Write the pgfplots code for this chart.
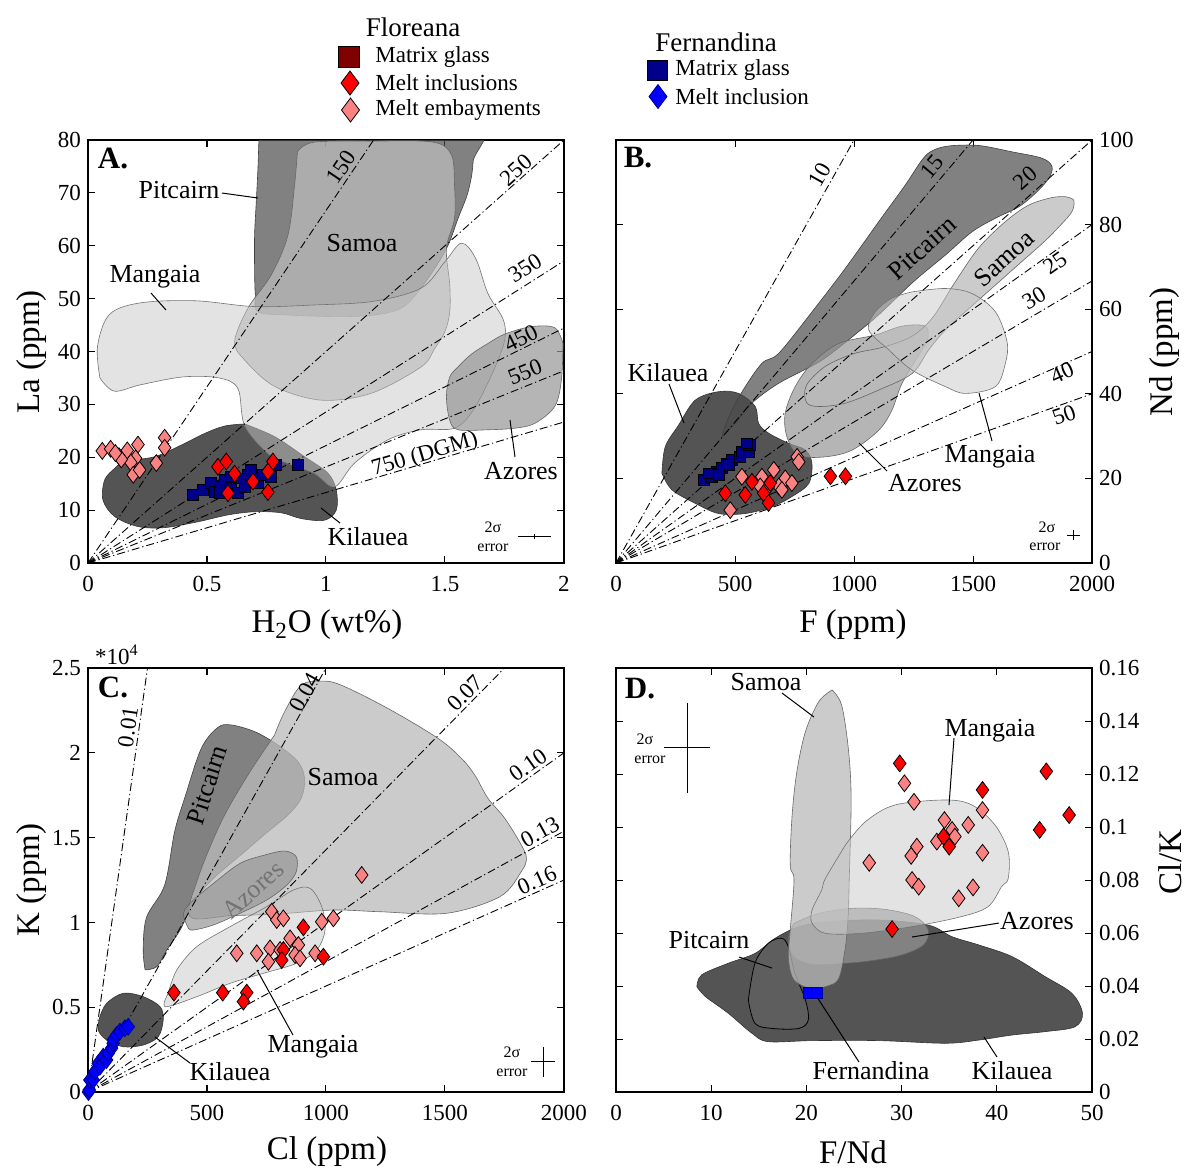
\documentclass[border=0pt]{standalone}
\usepackage{pgfplots}
\pgfplotsset{compat=1.18}
\usepackage{fontspec}
\setmainfont{Liberation Serif}
\definecolor{redMI}{RGB}{255,0,0}
\definecolor{pinkME}{RGB}{250,130,130}
\definecolor{maroonMG}{RGB}{128,0,0}
\definecolor{navyMG}{RGB}{0,0,139}
\definecolor{blueMI}{RGB}{0,0,255}
\newcommand\tickfont{\fontsize{11.5}{13}\selectfont}
\newcommand\lab{\fontsize{16.5}{18}\selectfont}
\newcommand\ann{\fontsize{13}{15}\selectfont}
\newcommand\rat{\fontsize{11.5}{13}\selectfont}
\newcommand\leg{\fontsize{11.5}{13}\selectfont}
\newcommand\ttl{\fontsize{13.5}{15}\selectfont}
\newcommand\pl{\fontsize{15.5}{17}\selectfont\bfseries}
\newcommand\er{\fontsize{8}{9}\selectfont}
\pgfplotsset{
  panel/.style={scale only axis, width=238pt, anchor=south west,
    enlargelimits=false, clip mode=individual,
    axis line style={black, line width=0.6pt},
    tick align=inside, tick pos=both, major tick length=3.5pt,
    tick style={black, line width=0.5pt},
    ticklabel style={font=\tickfont},
    scaled ticks=false, xticklabel shift=3pt,
    /pgf/number format/fixed, /pgf/number format/precision=2,
    /pgf/number format/1000 sep={},
    /pgf/number format/assume math mode=true,
    xticklabel={\pgfmathprintnumber[assume math mode=true]{\tick}},
    yticklabel={\pgfmathprintnumber[assume math mode=true]{\tick}}},
  fld/.style={smooth, tension=0.55, line width=0.3pt},
  kil/.style={fld, fill=black!67, draw=black!80},
  pit/.style={fld, fill=black!70, fill opacity=0.7, draw=black!75},
  sam/.style={fld, fill=black!27, fill opacity=0.75, draw=black!60},
  man/.style={fld, fill=black!22, fill opacity=0.5, draw=black!55},
  azo/.style={fld, fill=black!41, fill opacity=0.7, draw=black!60},
  mi/.style={only marks, mark=diamond*, mark size=4.2pt, mark options={fill=redMI, draw=black, line width=0.4pt, solid}},
  me/.style={only marks, mark=diamond*, mark size=4.2pt, mark options={fill=pinkME, draw=black, line width=0.4pt, solid}},
  fmg/.style={only marks, mark=square*, mark size=2.7pt, mark options={fill=navyMG, draw=black, line width=0.4pt, solid}},
  fmi/.style={only marks, mark=diamond*, mark size=4.2pt, mark options={fill=blueMI, draw=navyMG, line width=0.4pt, solid}},
  ratio/.style={black, line width=0.45pt, dash pattern=on 4pt off 1.5pt on 0.6pt off 1.5pt},
  err/.style={draw=none, mark=none, error bars/.cd, x dir=both, x explicit, y dir=both, y explicit, error mark=none, error bar style={draw=black, solid, line width=0.5pt}},
}
\begin{document}
\begin{tikzpicture}
\useasboundingbox (0,0) rectangle (595pt,-584.5pt);
% ---------------- Panel A ----------------
\begin{axis}[panel, height=211.5pt, at={(44pt,-281.5pt)},
  xmin=0, xmax=2, ymin=0, ymax=80, xtick={0,0.5,1,1.5,2}, ytick={0,10,20,30,40,50,60,70,80}]
\addplot[kil] coordinates {(0.658,26.3)(0.784,23.9)(0.910,20.1)(1.008,17.0)(1.043,13.8)(1.043,10.0)(0.994,8.1)(0.896,8.4)(0.812,9.5)(0.700,9.7)(0.588,9.1)(0.462,7.8)(0.322,6.7)(0.210,6.9)(0.112,8.8)(0.063,11.9)(0.070,15.7)(0.112,17.9)(0.154,19.2)(0.280,20.1)(0.392,22.3)(0.490,24.5)(0.574,25.9)(0.658,26.3)} -- cycle;
\addplot[pit] coordinates {(0.721,84)(0.714,74.6)(0.707,68.3)(0.700,62.0)(0.700,55.7)(0.703,50.7)(0.714,47.5)(0.840,46.9)(1.050,46.6)(1.204,46.9)(1.317,48.2)(1.387,51.3)(1.457,55.7)(1.513,60.1)(1.555,65.2)(1.597,70.2)(1.618,75.9)(1.611,84)(0.721,84)} -- cycle;
\addplot[sam] coordinates {(0.88,77.8)(0.95,79.6)(1.2,79.8)(1.45,79.6)(1.527,77.2)(1.54,71.5)(1.54,65.2)(1.506,59.5)(1.52,52.6)(1.52,47.5)(1.50,43.8)(1.457,40.6)(1.40,37.1)(1.19,32.1)(0.98,30.8)(0.784,33.4)(0.658,38.4)(0.616,41.9)(0.672,48.2)(0.77,54.5)(0.84,62.0)(0.868,71.5)(0.88,77.8)} -- cycle;
\addplot[man] coordinates {(0.05,35)(0.04,41)(0.09,47)(0.22,49.2)(0.45,49.6)(0.7,48.5)(0.95,48.8)(1.2,49.5)(1.40,52)(1.50,57)(1.57,60.5)(1.63,57.5)(1.68,51)(1.745,46)(1.75,42)(1.70,36)(1.62,29)(1.54,25.5)(1.40,25.2)(1.26,23.3)(1.12,18.9)(1.036,14.4)(0.952,16.9)(0.84,18.8)(0.756,20.7)(0.658,26)(0.63,33)(0.55,35)(0.40,35.2)(0.22,33.7)(0.11,32.5)(0.05,35)} -- cycle;
\addplot[azo] coordinates {(1.996,41.5)(1.989,34.6)(1.961,29.6)(1.877,26.4)(1.793,25.5)(1.681,25.2)(1.555,25.2)(1.520,27.0)(1.506,31.5)(1.520,35.2)(1.555,37.1)(1.611,39.5)(1.68,41.5)(1.751,43.3)(1.863,44.7)(1.961,44.5)(1.996,41.5)} -- cycle;
\addplot[ratio] coordinates {(0,0)(2,133.33)};
\addplot[ratio] coordinates {(0,0)(2,80)};
\addplot[ratio] coordinates {(0,0)(2,57.14)};
\addplot[ratio] coordinates {(0,0)(2,44.44)};
\addplot[ratio] coordinates {(0,0)(2,36.36)};
\addplot[ratio] coordinates {(0,0)(2,26.67)};
\addplot[me] coordinates {(0.06,21.2)(0.095,21.6)(0.13,20.2)(0.165,21.3)(0.21,22.4)(0.20,19.8)(0.18,19.0)(0.19,16.7)(0.217,17.6)(0.287,18.9)(0.322,23.7)(0.322,21.8)(0.14,19.6)(0.115,20.8)};
\addplot[fmg] coordinates {(0.441,12.9)(0.483,13.8)(0.518,15.1)(0.532,13.5)(0.560,14.4)(0.574,15.7)(0.602,15.1)(0.630,13.2)(0.658,14.4)(0.672,16.6)(0.686,17.6)(0.700,16.0)(0.714,15.1)(0.735,16.6)(0.770,16.3)(0.791,18.5)(0.882,18.5)(0.637,16.0)(0.553,13.2)(0.602,16.3)};
\addplot[mi] coordinates {(0.546,18.2)(0.581,19.2)(0.616,16.9)(0.588,13.2)(0.693,15.4)(0.756,17.3)(0.777,19.2)(0.756,13.4)};
\addplot[err] coordinates {(1.876,4.97) +- (0.069,0.5)};
\end{axis}
% ---------------- Panel B ----------------
\begin{axis}[panel, height=211.5pt, at={(308pt,-281.5pt)},
  xmin=0, xmax=2000, ymin=0, ymax=100, xtick={0,500,1000,1500,2000}, ytick={0,20,40,60,80,100},
  yticklabel pos=right]
\addplot[kil] coordinates {(193,21.2)(207,27.5)(263,32.6)(333,38.5)(431,40.5)(515,40.1)(585,37.0)(599,33.0)(641,30.7)(725,28.3)(796,26.7)(823,23.6)(810,18.8)(739,15.7)(655,13.3)(543,11.7)(431,11.7)(333,14.1)(235,17.3)(193,21.2)} -- cycle;
\addplot[pit] coordinates {(445,29.8)(470,34)(530,40.5)(613,47.2)(684,49.6)(824,59.4)(964,69.7)(1104,80.7)(1216,89.4)(1286,95.3)(1330,97.5)(1400,98.6)(1524,98.7)(1664,97.2)(1790,95.7)(1832,93.7)(1818,90.9)(1762,87.4)(1692,84.2)(1594,81.5)(1496,78.3)(1384,72.8)(1250,66.5)(1100,58.5)(960,52)(852,47.5)(684,42.5)(571,37.8)(501,33.0)(445,29.8)} -- cycle;
\addplot[azo] coordinates {(1286,50.4)(1202,42.5)(1160,36.2)(1104,31.4)(992,26.7)(879,25.1)(768,25.5)(718,29.9)(711,35.4)(753,41.7)(824,47.2)(936,51.9)(1090,53.9)(1202,56)(1300,56)(1310,53)(1286,50.4)} -- cycle;
\addplot[sam] coordinates {(1888,86.6)(1832,86.4)(1734,84.6)(1636,80.7)(1524,74.5)(1420,66)(1330,58)(1240,53.5)(1120,51)(1000,49.5)(880,46.5)(800,42)(800,38)(852,37)(964,37.8)(1104,40.9)(1244,44.8)(1314,50.4)(1384,55.1)(1480,60)(1600,66)(1700,71)(1800,76)(1870,80)(1916,83.1)(1923,85.8)(1888,86.6)} -- cycle;
\addplot[man] coordinates {(1244,64.1)(1384,64.9)(1496,63.7)(1594,59.4)(1643,52.3)(1636,47.2)(1594,41.7)(1468,40.1)(1384,41.7)(1244,45.6)(1146,50.4)(1062,55.1)(1090,59.4)(1160,62.6)(1244,64.1)} -- cycle;
\addplot[ratio] coordinates {(0,0)(2000,200)};
\addplot[ratio] coordinates {(0,0)(2000,133.33)};
\addplot[ratio] coordinates {(0,0)(2000,100)};
\addplot[ratio] coordinates {(0,0)(2000,80)};
\addplot[ratio] coordinates {(0,0)(2000,66.67)};
\addplot[ratio] coordinates {(0,0)(2000,50)};
\addplot[ratio] coordinates {(0,0)(2000,40)};
\addplot[fmg] coordinates {(368,19.6)(403,20.4)(424,21.6)(445,22.4)(466,23.5)(487,24.3)(522,25.1)(529,26.3)(557,26.3)(564,27.9)(550,28.3)(389,21.2)(473,23.2)(431,20.8)};
\addplot[me] coordinates {(480,12.5)(529,20.4)(613,20.4)(663,22.0)(711,20.0)(739,18.9)(761,25.1)(768,23.9)(684,18.1)(697,17.3)(641,18.1)(606,18.1)};
\addplot[mi] coordinates {(459,16.5)(543,16.1)(571,19.2)(620,16.5)(641,14.2)(648,18.9)(901,20.5)(964,20.5)};
\addplot[err] coordinates {(1923,6.6) +- (28,1.2)};
\end{axis}
% ---------------- Panel C ----------------
\begin{axis}[panel, height=212pt, at={(44pt,-546pt)},
  xmin=0, xmax=2000, ymin=0, ymax=2.5, xtick={0,500,1000,1500,2000}, ytick={0,0.5,1,1.5,2,2.5}]
\addplot[kil] coordinates {(50,0.444)(78,0.523)(148,0.582)(232,0.562)(303,0.503)(316,0.425)(295,0.326)(232,0.277)(148,0.267)(78,0.307)(43,0.366)(50,0.444)} -- cycle;
\addplot[pit] coordinates {(240,0.72)(232,0.837)(246,1.03)(322,1.22)(364,1.535)(406,1.732)(476,2.026)(546,2.150)(602,2.164)(700,2.125)(798,2.046)(882,1.948)(910,1.849)(896,1.732)(840,1.633)(756,1.535)(658,1.417)(520,1.25)(442,1.113)(387,0.955)(331,0.837)(289,0.739)(240,0.72)} -- cycle;
\addplot[sam] coordinates {(784,2.105)(826,2.242)(896,2.399)(980,2.423)(1064,2.399)(1261,2.261)(1471,2.085)(1569,1.967)(1625,1.869)(1681,1.731)(1751,1.614)(1821,1.456)(1842,1.378)(1821,1.300)(1731,1.152)(1507,1.054)(1227,1.063)(1031,1.073)(800,1.05)(600,1.04)(429,1.034)(462,1.26)(560,1.594)(672,1.869)(784,2.105)} -- cycle;
\addplot[azo] coordinates {(422,0.965)(401,1.054)(443,1.132)(527,1.230)(639,1.348)(742,1.397)(826,1.421)(875,1.387)(875,1.299)(835,1.220)(751,1.132)(639,1.054)(527,0.985)(443,0.955)(422,0.965)} -- cycle;
\addplot[man] coordinates {(337,0.582)(373,0.719)(457,0.857)(597,0.975)(751,1.093)(863,1.191)(933,1.201)(982,1.093)(996,0.955)(961,0.837)(877,0.759)(737,0.700)(597,0.641)(457,0.562)(325,0.503)(337,0.582)} -- cycle;
\addplot[ratio] coordinates {(0,0)(300,3)};
\addplot[ratio] coordinates {(0,0)(2000,5)};
\addplot[ratio] coordinates {(0,0)(2000,2.857)};
\addplot[ratio] coordinates {(0,0)(2000,2.0)};
\addplot[ratio] coordinates {(0,0)(2000,1.538)};
\addplot[ratio] coordinates {(0,0)(2000,1.25)};
\addplot[fmi] coordinates {(2,0.0)(5,0.012)(8,0.071)(22,0.071)(29,0.12)(43,0.169)(50,0.149)(64,0.208)(78,0.189)(85,0.228)(99,0.258)(106,0.287)(106,0.307)(120,0.336)(134,0.356)(155,0.376)(169,0.385)};
\addplot[me] coordinates {(1150,1.28)(772,1.063)(793,1.014)(821,1.024)(982,1.004)(1031,1.024)(849,0.906)(884,0.867)(625,0.818)(709,0.818)(765,0.847)(758,0.768)(870,0.808)(891,0.788)(954,0.818)(807,0.837)};
\addplot[mi] coordinates {(361,0.586)(566,0.586)(667,0.586)(653,0.533)(905,0.971)(821,0.837)(814,0.778)(989,0.798)};
\addplot[err] coordinates {(1912,0.177) +- (52,0.088)};
\end{axis}
% ---------------- Panel D ----------------
\begin{axis}[panel, height=212pt, at={(308pt,-546pt)},
  xmin=0, xmax=50, ymin=0, ymax=0.16, xtick={0,10,20,30,40,50},
  ytick={0,0.02,0.04,0.06,0.08,0.1,0.12,0.14,0.16}, yticklabel pos=right]
\addplot[kil] coordinates {(8.5,0.0397)(9.0,0.0442)(11.8,0.0486)(14.6,0.0523)(16.7,0.058)(19.2,0.0624)(22.3,0.0643)(27.6,0.0649)(32.8,0.063)(35.3,0.0586)(38.1,0.0555)(41.6,0.0511)(45.1,0.0435)(47.9,0.0372)(49.0,0.0297)(48.2,0.0246)(45.1,0.0228)(41.6,0.0215)(38.1,0.0196)(34.6,0.0184)(27.6,0.0194)(20.6,0.0194)(16.0,0.019)(14.3,0.0221)(11.8,0.0297)(9.4,0.036)(8.5,0.0397)} -- cycle;
\addplot[fld, fill=black!63, draw=black, line width=0.4pt] coordinates {(13.9,0.0347)(14.6,0.0486)(16.0,0.0561)(17.4,0.058)(18.1,0.0548)(18.8,0.0448)(19.9,0.0347)(20.2,0.0272)(19.2,0.024)(16.4,0.024)(14.6,0.0259)(13.9,0.0347)} -- cycle;
\addplot[azo] coordinates {(18.7,0.0637)(21.3,0.0674)(24.8,0.0693)(28.3,0.0689)(31.4,0.0662)(32.8,0.0611)(32.3,0.0555)(30.0,0.0517)(26.9,0.0496)(24.1,0.0486)(20.6,0.0483)(18.7,0.0511)(18.1,0.0574)(18.7,0.0637)} -- cycle;
\addplot[sam] coordinates {(22.7,0.1517)(21.3,0.1473)(19.9,0.136)(19.0,0.1209)(18.5,0.1045)(18.3,0.0857)(18.7,0.080)(18.3,0.0611)(18.1,0.0511)(18.5,0.0435)(19.4,0.0404)(20.6,0.0391)(22.2,0.040)(23.4,0.0429)(24.1,0.0548)(24.4,0.0674)(24.5,0.080)(24.7,0.1108)(24.4,0.1297)(23.7,0.146)(22.7,0.1517)} -- cycle;
\addplot[man] coordinates {(24.1,0.0932)(26.2,0.102)(29.3,0.1083)(34.6,0.1102)(37.4,0.1083)(39.8,0.1008)(41.2,0.0907)(41.2,0.0806)(40.5,0.0775)(39.1,0.070)(36.3,0.0662)(31.1,0.0624)(25.8,0.0599)(22.0,0.0599)(20.6,0.0637)(20.6,0.0687)(21.6,0.0762)(22.0,0.0806)(24.1,0.0932)} -- cycle;
\addplot[only marks, mark=square*, mark size=2.8pt, mark options={fill=blueMI, draw=blueMI!60!black, line width=0.3pt}] coordinates {(20.3,0.0375)(20.7,0.0375)(21.1,0.0375)};
\addplot[me] coordinates {(30.3,0.1165)(31.3,0.1095)(38.5,0.1064)(34.5,0.1026)(35.3,0.0989)(37.0,0.1008)(31.6,0.0926)(31.0,0.0891)(33.7,0.0945)(38.5,0.0903)(26.6,0.0865)(31.1,0.080)(31.8,0.0775)(37.5,0.0772)(36.0,0.0731)(35.6,0.0964)};
\addplot[mi] coordinates {(29.8,0.124)(45.2,0.121)(38.5,0.114)(47.6,0.1045)(44.5,0.0989)(34.4,0.0964)(35.0,0.0926)(29.0,0.0615)};
\addplot[err] coordinates {(7.46,0.1299) +- (2.45,0.017)};
\end{axis}
% ---------------- Overlay: legend and annotations (pixel coordinates) ----------------
\tikzset{every node/.append style={inner sep=0pt}}
\begin{axis}[at={(0pt,-584.5pt)}, anchor=south west, scale only axis, width=595pt, height=584.5pt,
  xmin=0, xmax=1190, ymin=0, ymax=1169, y dir=reverse, hide axis, clip=false, enlargelimits=false]
% legend
\addplot[only marks, mark=square*, mark size=5.2pt, mark options={fill=maroonMG, draw=black, line width=0.4pt}] coordinates {(349,57)};
\addplot[only marks, mark=diamond*, mark size=6pt, mark options={fill=redMI, draw=black, line width=0.4pt}] coordinates {(350,83)};
\addplot[only marks, mark=diamond*, mark size=6pt, mark options={fill=pinkME, draw=black, line width=0.4pt}] coordinates {(350.5,110)};
\addplot[only marks, mark=square*, mark size=5pt, mark options={fill=navyMG, draw=black, line width=0.4pt}] coordinates {(657,70)};
\addplot[only marks, mark=diamond*, mark size=6pt, mark options={fill=blueMI, draw=navyMG, line width=0.4pt}] coordinates {(658,96.5)};
\node[font=\ttl] at (413,27) {Floreana};
\node[font=\leg, anchor=west] at (375,57) {Matrix glass};
\node[font=\leg, anchor=west] at (375,83) {Melt inclusions};
\node[font=\leg, anchor=west] at (375,110) {Melt embayments};
\node[font=\ttl] at (716,42) {Fernandina};
\node[font=\leg, anchor=west] at (675,70) {Matrix glass};
\node[font=\leg, anchor=west] at (675,97) {Melt inclusion};
% panel letters
\node[font=\pl] at (113,158) {A.};
\node[font=\pl] at (638,158) {B.};
\node[font=\pl] at (113,687) {C.};
\node[font=\pl] at (640,689) {D.};
% axis labels
\node[font=\lab, rotate=90] at (32,352) {La (ppm)};
\node[font=\lab] at (327,625) {H\textsubscript{2}O (wt\%)};
\node[font=\lab] at (853,625) {F (ppm)};
\node[font=\lab, rotate=90] at (1165,352) {Nd (ppm)};
\node[font=\lab, rotate=90] at (32,880) {K (ppm)};
\node[font=\lab] at (327,1152) {Cl (ppm)};
\node[font=\lab] at (853,1152) {F/Nd};
\node[font=\lab, rotate=90] at (1170,862) {Cl/K};
\node[font=\tickfont] at (117,655) {*10\textsuperscript{4}};
% ratio labels A
\node[font=\rat, rotate=56] at (341,167) {150};
\node[font=\rat, rotate=41.6] at (516,170) {250};
\node[font=\rat, rotate=32.4] at (525,268) {350};
\node[font=\rat, rotate=26.3] at (521,338) {450};
\node[font=\rat, rotate=22] at (525,372) {550};
\node[font=\rat, rotate=16.5] at (425,455) {750 (DGM)};
% ratio labels B
\node[font=\rat, rotate=60.6] at (820,175) {10};
\node[font=\rat, rotate=49.8] at (932,167) {15};
\node[font=\rat, rotate=41.6] at (1025,178) {20};
\node[font=\rat, rotate=35.4] at (1055,263) {25};
\node[font=\rat, rotate=30.6] at (1034,298) {30};
\node[font=\rat, rotate=24] at (1062,373) {40};
\node[font=\rat, rotate=19.6] at (1064,415) {50};
% ratio labels C
\node[font=\rat, rotate=82] at (128,727) {0.01};
\node[font=\rat, rotate=60.7] at (305,692) {0.04};
\node[font=\rat, rotate=45.5] at (465,693) {0.07};
\node[font=\rat, rotate=35.5] at (528,765) {0.10};
\node[font=\rat, rotate=28.7] at (540,832) {0.13};
\node[font=\rat, rotate=24] at (537,880) {0.16};
% field labels A
\node[font=\ann] at (179,190) {Pitcairn};
\node[font=\ann] at (362,243) {Samoa};
\node[font=\ann] at (155,277) {Mangaia};
\node[font=\ann] at (521,471) {Azores};
\node[font=\ann] at (368,537) {Kilauea};
\draw[black, line width=0.5pt] (222,193) -- (258,198);
\draw[black, line width=0.5pt] (151,293) -- (166,310);
\draw[black, line width=0.5pt] (510,420) -- (515,457);
\draw[black, line width=0.5pt] (321,508) -- (340,523);
% field labels B
\node[font=\ann] at (668,373) {Kilauea};
\node[font=\ann, rotate=42] at (922,248) {Pitcairn};
\node[font=\ann, rotate=42] at (1004,258) {Samoa};
\node[font=\ann] at (925,483) {Azores};
\node[font=\ann] at (990,457) {Mangaia};
\draw[black, line width=0.5pt] (669,384) -- (684,423);
\draw[black, line width=0.5pt] (859,443) -- (887,471);
\draw[black, line width=0.5pt] (979,393) -- (992,441);
% field labels C
\node[font=\ann, rotate=72] at (207,785) {Pitcairn};
\node[font=\ann] at (343,777) {Samoa};
\node[font=\ann, rotate=42, text=black!55] at (253,890) {Azores};
\node[font=\ann] at (313,1047) {Mangaia};
\node[font=\ann] at (230,1072) {Kilauea};
\draw[black, line width=0.5pt] (155,1037) -- (190,1063);
\draw[black, line width=0.5pt] (257,970) -- (293,1035);
% field labels D
\node[font=\ann] at (766,682) {Samoa};
\node[font=\ann] at (990,731) {Mangaia};
\node[font=\ann] at (1037,921) {Azores};
\node[font=\ann] at (709,940) {Pitcairn};
\node[font=\ann] at (871,1071) {Fernandina};
\node[font=\ann] at (1012,1071) {Kilauea};
\draw[black, line width=0.5pt] (782,693) -- (814,717);
\draw[black, line width=0.5pt] (954,738) -- (949,805);
\draw[black, line width=0.5pt] (999,923) -- (912,937);
\draw[black, line width=0.5pt] (739,957) -- (772,968);
\draw[black, line width=0.5pt] (817,997) -- (859,1062);
\draw[black, line width=0.5pt] (984,1037) -- (997,1057);
% error labels
\node[font=\er] at (493,527) {2σ};
\node[font=\er] at (493,548) {error};
\node[font=\er] at (1047,527) {2σ};
\node[font=\er] at (1045,547) {error};
\node[font=\er] at (512,1052) {2σ};
\node[font=\er] at (512,1073) {error};
\node[font=\er] at (645,739) {2σ};
\node[font=\er] at (650,760) {error};
\end{axis}
\end{tikzpicture}
\end{document}
